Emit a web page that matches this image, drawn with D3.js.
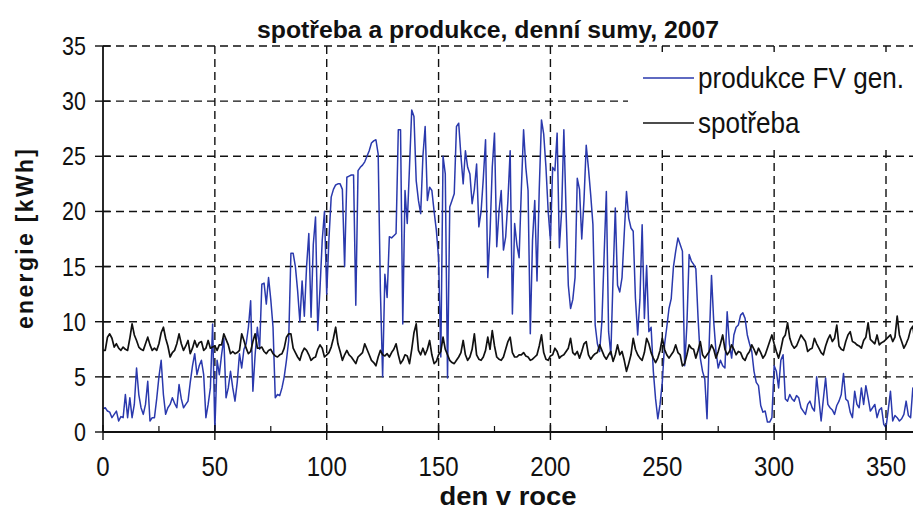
<!DOCTYPE html>
<html><head><meta charset="utf-8">
<script src="https://cdn.jsdelivr.net/npm/d3@7"></script>
<style>
body{margin:0;background:#fff;}
svg{display:block;}
</style></head>
<body>
<svg id="c" width="913" height="517"></svg>
<script>
const titleText = "spotřeba a produkce,  denní sumy, 2007";
const xLabel = "den v roce";
const yLabel = "energie [kWh]";
const seriesNames = ["produkce FV gen.", "spotřeba"];
const xTicks = [0, 50, 100, 150, 200, 250, 300, 350];
const xMinorTicks = [25, 75, 125, 175, 225, 275, 325];
const yTicks = [0, 5, 10, 15, 20, 25, 30, 35];
const days = d3.range(0, 365);

const produkce = [
2.1,2.2,1.9,1.8,1.3,1.6,1.9,1.0,1.4,1.3,
3.4,1.3,3.1,1.3,2.5,5.8,3.4,2.2,1.6,2.5,
4.6,1.0,1.3,1.3,3.0,5.0,6.5,3.4,1.6,2.2,
2.5,3.1,2.6,2.2,4.3,3.0,2.2,2.5,2.8,4.5,
6.0,7.1,5.2,6.0,6.5,5.2,1.3,2.5,4.0,9.8,
0.2,6.5,5.2,7.0,8.5,3.1,4.0,5.5,4.0,2.8,
4.5,7.1,5.8,7.5,8.0,9.5,11.9,3.7,7.0,9.5,
7.5,13.4,13.5,11.6,14.0,12.0,9.5,3.1,3.4,3.3,
4.0,5.0,6.5,8.3,16.2,16.2,15.0,12.8,10.0,13.7,
10.5,15.0,18.0,10.4,17.0,19.5,9.2,13.0,17.4,20.0,
12.5,17.5,21.3,22.0,22.4,22.5,22.5,22.0,15.0,23.1,
23.2,23.3,23.3,11.5,23.7,24.0,24.2,24.5,25.0,25.5,
26.2,26.4,26.5,25.2,12.8,5.0,14.3,12.2,17.7,17.6,
17.8,18.0,27.4,27.4,9.8,21.9,18.9,24.0,29.2,28.6,
22.8,21.0,19.8,25.0,27.7,21.0,22.2,21.9,20.0,18.3,
15.8,6.8,25.0,23.4,4.9,20.4,21.0,21.6,27.7,28.0,
25.0,22.5,25.5,24.0,23.4,20.7,22.0,24.3,18.6,20.0,
23.0,26.5,14.0,18.0,24.0,27.1,16.8,20.0,21.9,16.5,
17.7,21.0,25.5,10.7,18.9,17.0,15.8,22.0,27.4,24.0,
21.9,8.9,17.4,21.0,13.7,22.0,28.3,27.0,24.0,20.0,
17.4,24.0,23.7,27.1,16.7,20.0,27.4,20.0,13.3,11.2,
12.0,14.0,23.0,22.0,17.5,21.0,26.0,23.9,21.5,18.8,
9.7,8.0,7.3,10.0,16.0,21.8,9.1,7.0,14.0,20.3,
13.3,12.7,14.0,18.0,21.8,19.4,18.5,18.2,12.1,8.8,
12.0,18.8,10.3,15.1,9.1,9.5,5.5,3.0,1.2,2.5,
4.5,7.9,9.5,11.2,12.1,15.0,16.4,17.6,17.0,16.4,
6.0,9.7,16.1,15.5,15.2,14.8,10.3,6.7,5.5,4.8,
1.2,8.2,14.2,10.0,7.3,5.8,6.5,6.0,5.8,10.9,
8.0,6.7,8.8,9.5,9.7,10.6,10.8,10.3,8.8,8.0,
7.3,5.5,4.5,4.2,2.4,1.8,1.9,0.9,0.9,1.3,
6.0,5.5,4.0,6.5,7.0,3.0,2.8,3.4,3.0,2.8,
3.3,3.1,2.2,1.9,1.6,2.5,2.8,2.2,1.9,5.0,
3.0,1.0,3.0,4.9,2.5,2.2,2.0,1.6,2.4,2.8,
3.4,5.3,3.0,2.8,1.8,1.3,3.7,2.5,2.2,4.0,
2.5,4.2,3.1,1.9,2.2,2.5,1.3,2.0,2.2,0.7,
0.4,2.0,3.7,1.0,1.5,1.3,1.0,1.2,1.6,2.8,
1.5,1.3,4.0,2.0,1.5
];

const spotreba = [
7.4,7.4,8.6,8.9,8.5,7.7,8.0,7.6,7.4,7.7,
7.5,7.4,8.5,9.8,8.8,8.3,7.7,7.5,7.4,8.0,
8.6,7.9,7.4,7.6,7.4,8.0,9.0,9.5,8.5,7.8,
6.8,7.2,7.4,8.0,8.9,8.0,7.4,7.8,8.3,7.1,
7.6,8.3,7.7,8.1,8.2,7.4,7.6,8.3,7.6,7.7,
7.8,7.4,7.9,7.9,8.9,8.4,7.9,7.1,7.3,7.1,
7.2,7.4,8.9,8.3,7.6,7.1,7.3,8.2,8.9,7.6,
7.6,7.7,7.3,7.1,7.4,7.5,7.1,6.9,6.8,7.0,
7.1,7.6,8.6,8.9,8.9,7.6,7.2,6.8,6.5,7.2,
7.6,7.4,7.0,6.5,6.7,6.8,7.5,7.9,7.6,6.8,
7.0,7.2,7.7,8.5,9.5,8.0,7.3,6.5,7.0,7.4,
7.0,6.8,6.5,6.2,6.8,7.0,7.2,8.0,7.5,7.0,
6.5,6.3,6.0,6.8,7.4,7.0,6.9,7.1,6.8,7.2,
7.5,8.0,7.0,6.2,6.5,7.0,6.9,6.2,7.5,9.0,
9.8,7.4,7.0,7.6,7.0,7.5,8.3,7.0,6.2,6.4,
7.0,7.3,8.6,7.5,7.0,6.5,6.3,6.2,6.5,6.8,
7.2,8.3,7.0,6.5,6.8,7.5,8.9,7.0,6.6,6.5,
6.8,7.4,8.6,7.5,9.2,7.8,6.8,6.6,6.5,6.8,
7.5,8.2,8.6,7.2,6.8,6.8,7.0,7.0,7.2,6.9,
6.8,6.5,6.6,6.8,7.0,7.8,8.8,7.2,6.6,6.5,
6.9,7.0,7.6,7.3,6.7,6.9,7.0,7.3,7.6,8.5,
7.2,7.0,7.3,6.7,7.3,8.0,8.2,7.0,6.6,6.9,
7.1,7.2,7.9,7.4,6.9,6.6,7.0,7.3,6.4,7.0,
7.9,7.0,7.3,6.5,5.5,6.2,7.0,8.5,7.5,7.0,
6.7,6.5,7.2,8.5,8.0,7.2,6.7,6.3,6.7,7.4,
8.5,7.5,7.0,6.7,7.0,7.3,7.9,7.2,7.0,6.0,
6.2,7.0,7.9,7.6,7.5,6.7,7.4,8.2,7.0,6.7,
7.0,7.3,7.9,7.5,6.7,7.3,8.0,8.8,7.5,7.0,
7.3,7.9,7.5,7.0,7.3,7.2,6.7,6.5,7.0,7.3,
7.9,7.5,7.0,7.6,7.2,6.7,7.0,7.6,8.2,8.8,
8.0,7.3,6.7,7.5,8.5,8.8,9.9,8.5,7.9,7.6,
7.8,8.3,8.8,8.5,8.2,7.3,7.5,7.6,8.5,8.0,
7.6,7.2,7.0,7.8,8.4,8.8,8.2,8.5,9.7,7.8,
7.5,7.4,8.2,8.8,9.1,8.2,8.1,7.9,7.8,7.6,
8.3,8.6,9.9,8.4,8.2,8.0,8.8,7.9,8.1,8.2,
8.4,8.6,8.8,8.2,8.6,10.5,8.8,8.2,7.6,8.0,
8.5,9.3,9.6,8.0,7.8
];

const colors = ["#2a39ad", "#111111"];
const FONT = "'Liberation Sans', Arial, sans-serif";

const svg = d3.select("#c");
const x = d3.scaleLinear().domain([0, 350]).range([103, 886]);
const y = d3.scaleLinear().domain([0, 35]).range([432, 46]);
const xRight = 913;

// grid
const grid = svg.append("g").attr("stroke", "#111").attr("stroke-width", 1.4)
  .attr("stroke-dasharray", "8,5").attr("fill", "none");
grid.selectAll("line.h").data(yTicks.filter(d => d > 0)).join("line")
  .attr("x1", x(0)).attr("x2", xRight).attr("y1", d => y(d)).attr("y2", d => y(d));
grid.selectAll("line.v").data(xTicks.filter(d => d > 0)).join("line")
  .attr("x1", d => x(d)).attr("x2", d => x(d)).attr("y1", y(35)).attr("y2", y(0));

// data lines
const clipId = "plotclip";
svg.append("clipPath").attr("id", clipId).append("rect")
  .attr("x", x(0)).attr("y", 0).attr("width", xRight - x(0)).attr("height", y(0) + 2);
const series = [produkce, spotreba];
series.forEach((vals, i) => {
  const line = d3.line().x((d, j) => x(days[j])).y(d => y(d));
  svg.append("path").datum(vals).attr("clip-path", `url(#${clipId})`)
    .attr("fill", "none").attr("stroke", colors[i])
    .attr("stroke-width", i === 0 ? 1.5 : 1.7)
    .attr("stroke-linejoin", "round")
    .attr("d", line);
});

// axes
const xAxis = svg.append("g");
xAxis.append("line").attr("x1", x(0)).attr("x2", xRight).attr("y1", y(0)).attr("y2", y(0))
  .attr("stroke", "#111").attr("stroke-width", 1.8);
xAxis.selectAll("line.maj").data(xTicks).join("line")
  .attr("x1", d => x(d)).attr("x2", d => x(d)).attr("y1", y(0) - 7).attr("y2", y(0) + 8)
  .attr("stroke", "#111").attr("stroke-width", 1.4);
xAxis.selectAll("line.min").data(xMinorTicks).join("line").attr("class", "min")
  .attr("x1", d => x(d)).attr("x2", d => x(d)).attr("y1", y(0) - 6).attr("y2", y(0))
  .attr("stroke", "#111").attr("stroke-width", 1.2);
xAxis.selectAll("text").data(xTicks).join("text")
  .attr("transform", d => `translate(${x(d)},476) scale(0.86,1)`).attr("text-anchor", "middle")
  .attr("font-family", FONT).attr("font-size", 28).attr("fill", "#111").text(d => d);

const yAxis = svg.append("g");
yAxis.append("line").attr("x1", x(0)).attr("x2", x(0)).attr("y1", y(0)).attr("y2", y(35))
  .attr("stroke", "#111").attr("stroke-width", 1.8);
yAxis.selectAll("line.t").data(yTicks).join("line")
  .attr("x1", x(0) - 8).attr("x2", x(0) + 7).attr("y1", d => y(d)).attr("y2", d => y(d))
  .attr("stroke", "#111").attr("stroke-width", 1.4);
yAxis.selectAll("text").data(yTicks).join("text")
  .attr("transform", d => `translate(86,${y(d)}) scale(0.86,1)`).attr("dy", "0.36em")
  .attr("text-anchor", "end")
  .attr("font-family", FONT).attr("font-size", 25).attr("fill", "#111").text(d => d);

// legend
const lg = svg.append("g");
lg.append("rect").attr("x", 628).attr("y", 52).attr("width", 300).attr("height", 96).attr("fill", "#fff");
seriesNames.forEach((name, i) => {
  const ly = 78 + i * 45;
  lg.append("line").attr("x1", 643).attr("x2", 694).attr("y1", ly).attr("y2", ly)
    .attr("stroke", colors[i]).attr("stroke-width", 1.5);
  lg.append("text").attr("transform", `translate(698,${ly}) scale(0.9,1)`).attr("dy", "0.33em")
    .attr("font-family", FONT).attr("font-size", 29)
    .attr("fill", "#111").text(name);
});

// title and labels
svg.append("text").attr("x", 488).attr("y", 38).attr("text-anchor", "middle")
  .attr("font-family", FONT).attr("font-weight", "bold")
  .attr("font-size", 23).attr("textLength", 462).attr("lengthAdjust", "spacingAndGlyphs")
  .attr("fill", "#111").text(titleText);
svg.append("text").attr("x", 508).attr("y", 505).attr("text-anchor", "middle")
  .attr("font-family", FONT).attr("font-weight", "bold")
  .attr("font-size", 26).attr("textLength", 137).attr("lengthAdjust", "spacingAndGlyphs")
  .attr("fill", "#111").text(xLabel);
svg.append("text").attr("transform", "translate(33,239) rotate(-90)").attr("text-anchor", "middle")
  .attr("font-family", FONT).attr("font-weight", "bold")
  .attr("font-size", 23).attr("textLength", 180).attr("lengthAdjust", "spacing")
  .attr("fill", "#111").text(yLabel);
</script>
</body></html>
